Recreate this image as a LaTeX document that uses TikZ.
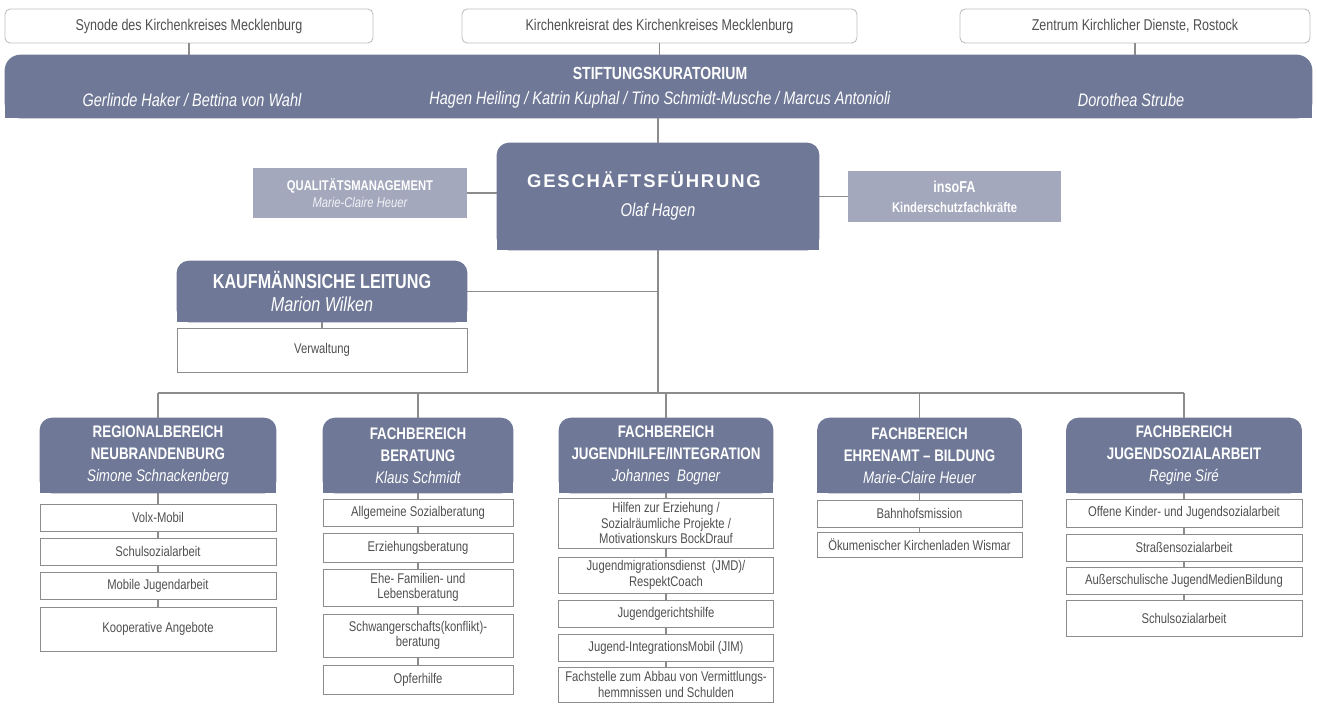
\documentclass[tikz,border=0pt]{standalone}
\usepackage{fontspec}
\setmainfont{Liberation Sans}[FakeStretch=0.8]
\newfontfamily\spacedfont{Liberation Sans}[LetterSpace=10]
\usepackage{xcolor}
\usepackage{tikz}
\usetikzlibrary{calc}
\usetikzlibrary{positioning, backgrounds}
\definecolor{kkblue}{RGB}{111,121,151}
\definecolor{kklight}{RGB}{163,168,189}
\definecolor{kkline}{RGB}{140,140,140}
\definecolor{kktext}{RGB}{80,80,80}
\tikzset{link/.style={draw=kkline,line width=0.6pt}}

\begin{document}
\begin{tikzpicture}[x=0.2mm,y=-0.2mm,
                    top box/.style={rectangle,rounded corners=3pt,draw=black!25,line width=0.5pt,fill=white,text=kktext,font=\fontsize{8.9}{10}\selectfont,minimum height=6.8mm,inner sep=0pt},
                    head node/.style={rectangle,text=white,align=center,inner sep=0pt,font=\fontsize{9.5}{12.5}\selectfont},
                    light node/.style={rectangle,fill=kklight,text=white,align=center,inner sep=0pt},
                    sub node/.style={rectangle,draw=kkline,line width=0.5pt,fill=white,text=kktext,align=center,inner sep=0pt,font=\fontsize{8}{8.8}\selectfont}]
\useasboundingbox (0,0) rectangle (1317,706);

\node [top box,minimum width=73.6mm] (syn) at (189,26) {Synode des Kirchenkreises Mecklenburg};
\node [top box,minimum width=79mm] (krr) at (659.5,26) {Kirchenkreisrat des Kirchenkreises Mecklenburg};
\node [top box,minimum width=70mm] (zkd) at (1135,26) {Zentrum Kirchlicher Dienste, Rostock};

\node [head node,minimum width=261.4mm,minimum height=12.6mm] (kur) at (658.5,86.5) {};
\node [text=white,font=\fontsize{10}{12}\selectfont\bfseries] (kurtitle) at (660,73) {STIFTUNGSKURATORIUM};
\node [text=white,font=\fontsize{10.3}{12}\selectfont\itshape] (kurleft) at (192,100) {Gerlinde Haker / Bettina von Wahl};
\node [text=white,font=\fontsize{10.3}{12}\selectfont\itshape] (kurmid) at (660,100) {Hagen Heiling / Katrin Kuphal / Tino Schmidt-Musche / Marcus Antonioli};
\node [text=white,font=\fontsize{10.3}{12}\selectfont\itshape] (kurright) at (1131,100) {Dorothea Strube};

\foreach \n in {syn,krr,zkd}
   \draw[link] (\n) -- (\n |- kur.north);

\node [head node,minimum width=64.4mm,minimum height=21.4mm,font=\fontsize{10.5}{16.5}\selectfont] (gf) at (658,196.5) {{\spacedfont\bfseries GESCHÄFTSFÜHRUNG}\hspace*{16pt}\\{\itshape Olaf Hagen}};
\node [light node,minimum width=42.8mm,minimum height=10mm,font=\fontsize{8}{9.4}\selectfont] (qm) at (360,193) {{\bfseries QUALITÄTSMANAGEMENT}\\{\itshape\color{white!85!kklight}Marie-Claire Heuer}};
\node [light node,minimum width=42.6mm,minimum height=10.2mm,font=\fontsize{8}{11.4}\selectfont] (ins) at (954.5,196.5) {{\bfseries\fontsize{9}{11.4}\selectfont insoFA}\\{\bfseries Kinderschutzfachkräfte}};

\draw[link] (kur.south -| gf.north) -- (gf.north);
\draw[link] (qm) -- (qm -| gf.west);
\draw[link] (ins) -- (ins -| gf.east);

\node [head node,minimum width=58mm,minimum height=12.2mm,font=\fontsize{11.5}{13}\selectfont] (kfm) at (322,291.5) {{\bfseries KAUFMÄNNSICHE LEITUNG}\\{\itshape Marion Wilken}};
\node [sub node,minimum width=58mm,minimum height=8.8mm] (verw) at (322,350) {Verwaltung};
\draw[link] (kfm) -- (kfm -| gf.south);
\draw[link] (kfm) -- (verw);

% bereiche
\node [head node,minimum width=47.2mm,minimum height=15mm] (reg) at (158,455.5) {{\bfseries REGIONALBEREICH}\\{\bfseries NEUBRANDENBURG}\\{\itshape Simone Schnackenberg}};
\node [head node,minimum width=38mm,minimum height=15mm] (ber) at (418,455.5) {{\bfseries FACHBEREICH}\\{\bfseries BERATUNG}\\{\itshape Klaus Schmidt}};
\node [head node,minimum width=42.8mm,minimum height=15mm] (jug) at (666,455.5) {{\bfseries FACHBEREICH}\\{\bfseries JUGENDHILFE/INTEGRATION}\\{\itshape Johannes~ Bogner}};
\node [head node,minimum width=40.8mm,minimum height=15mm] (ehr) at (919.5,455.5) {{\bfseries FACHBEREICH}\\{\bfseries EHRENAMT – BILDUNG}\\{\itshape Marie-Claire Heuer}};
\node [head node,minimum width=47mm,minimum height=15mm] (jsa) at (1184,455.5) {{\bfseries FACHBEREICH}\\{\bfseries JUGENDSOZIALARBEIT}\\{\itshape Regine Siré}};

\coordinate (bus) at (658,393);
\draw[link] (gf) -- (bus);
\draw[link] (reg.north |- bus) -- (jsa.north |- bus);
\foreach \c in {reg,ber,jug,ehr,jsa}
   \draw[link] (\c) -- (\c.north |- bus);

\foreach \t/\b/\txt [count=\i] in {504/531/Volx-Mobil, 538/565/Schulsozialarbeit, 572/599/Mobile Jugendarbeit, 607/651/Kooperative Angebote}
   \node [sub node,minimum width=47.2mm,minimum height={(\b-\t)*0.2mm}] (reg\i) at (158,{(\t+\b)/2}) {\txt};
\foreach \t/\b/\txt [count=\i] in {499/526/Allgemeine Sozialberatung, 533/562/Erziehungsberatung, 569/606/{Ehe- Familien- und\\Lebensberatung}, 614/657/{Schwangerschafts(konflikt)-\\beratung}, 665/694/Opferhilfe}
   \node [sub node,minimum width=38mm,minimum height={(\b-\t)*0.2mm}] (ber\i) at (418,{(\t+\b)/2}) {\txt};
\foreach \t/\b/\txt [count=\i] in {498/548/{Hilfen zur Erziehung /\\Sozialräumliche Projekte /\\Motivationskurs BockDrauf}, 557/593/{Jugendmigrationsdienst~ (JMD)/\\RespektCoach}, 600/627/Jugendgerichtshilfe, 634/661/Jugend-IntegrationsMobil (JIM), 667/702/{Fachstelle zum Abbau von Vermittlungs-\\hemmnissen und Schulden}}
   \node [sub node,minimum width=43mm,minimum height={(\b-\t)*0.2mm}] (jug\i) at (666,{(\t+\b)/2}) {\txt};
\foreach \t/\b/\txt [count=\i] in {500/527/Bahnhofsmission, 532/557/Ökumenischer Kirchenladen Wismar}
   \node [sub node,minimum width=41mm,minimum height={(\b-\t)*0.2mm}] (ehr\i) at (919.5,{(\t+\b)/2}) {\txt};
\foreach \t/\b/\txt [count=\i] in {499/527/Offene Kinder- und Jugendsozialarbeit, 534/561/Straßensozialarbeit, 567/594/Außerschulische JugendMedienBildung, 600/636/Schulsozialarbeit}
   \node [sub node,minimum width=47.2mm,minimum height={(\b-\t)*0.2mm}] (jsa\i) at (1184,{(\t+\b)/2}) {\txt};

\foreach \a/\c in {reg/reg1,reg1/reg2,reg2/reg3,reg3/reg4,
                   ber/ber1,ber1/ber2,ber2/ber3,ber3/ber4,ber4/ber5,
                   jug/jug1,jug1/jug2,jug2/jug3,jug3/jug4,jug4/jug5,
                   ehr/ehr1,ehr1/ehr2,
                   jsa/jsa1,jsa1/jsa2,jsa2/jsa3,jsa3/jsa4}
   \draw[link] (\a) -- (\c);

\begin{scope}[on background layer]
\fill[white] (0,0) rectangle (1317,706);
\foreach \n/\r in {kur/9pt,gf/7pt,kfm/7pt,reg/7pt,ber/7pt,jug/7pt,ehr/7pt,jsa/7pt}
  {\fill[kkblue,rounded corners=\r] (\n.south west) rectangle (\n.north east);
   \fill[kkblue] (\n.south west) rectangle (\n.east);}
\end{scope}

\end{tikzpicture}
\end{document}
